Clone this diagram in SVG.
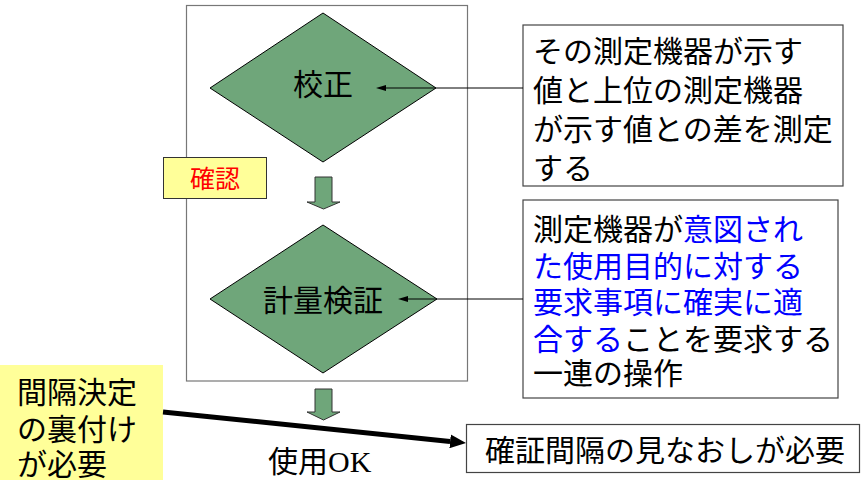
<svg xmlns="http://www.w3.org/2000/svg" width="861" height="480" viewBox="0 0 861 480">
<style>
text{font-family:"Noto Sans CJK JP","Liberation Sans",sans-serif;font-size:30px;fill:#000}
.dia{fill:#6FA67A;stroke:#000;stroke-width:1}
.blk{fill:#6FA67A;stroke:#333;stroke-width:1}
.box{fill:#fff;stroke:#444;stroke-width:1.2}
.note{fill:#FFFF99}
.blue{fill:#0000FF}
.thin{stroke:#000;stroke-width:1;fill:none}
.thick{stroke:#000;stroke-width:5;fill:none}
</style>
<defs>
<marker id="ah" markerUnits="userSpaceOnUse" markerWidth="10" markerHeight="6" refX="0" refY="3" orient="auto"><path d="M0,0 L10,3 L0,6 z" fill="#000"/></marker>
<marker id="ahb" markerUnits="userSpaceOnUse" markerWidth="16" markerHeight="14" refX="0" refY="7" orient="auto"><path d="M0,0 L16,7 L0,14 z" fill="#000"/></marker>
</defs>
<rect id="frame" x="186.5" y="5.5" width="281" height="375.5" fill="#fff" stroke="#777" stroke-width="1.2"/>
<g id="calib">
<polygon class="dia" points="323,13 436,88 323,162 210,88"/>
<text x="323" y="95" text-anchor="middle">校正</text>
</g>
<g id="confirm">
<rect x="163.5" y="157.5" width="103" height="41" fill="#FFFF99" stroke="#333" stroke-width="1"/>
<text x="215" y="188" text-anchor="middle" style="font-size:25px;fill:#FF0000">確認</text>
</g>
<g id="blockarrow1">
<polygon class="blk" points="315,177 332,177 332,202 340,202 323.5,209 307,202 315,202"/>
</g>
<g id="verify">
<polygon class="dia" points="323,225 437,299 323,373 210,299"/>
<text x="323" y="311" text-anchor="middle">計量検証</text>
</g>
<g id="blockarrow2">
<polygon class="blk" points="315,389 332,389 332,412 340,412 323.5,420 307,412 315,412"/>
</g>
<g id="desc1">
<rect class="box" x="523" y="25" width="320" height="161"/>
<text x="533" y="62">その測定機器が示す</text>
<text x="533" y="101">値と上位の測定機器</text>
<text x="533" y="140">が示す値との差を測定</text>
<text x="533" y="179">する</text>
</g>
<g id="desc2">
<rect class="box" x="523" y="200" width="315" height="198"/>
<text x="533" y="240">測定機器が<tspan class="blue">意図され</tspan></text>
<text x="533" y="277" class="blue">た使用目的に対する</text>
<text x="533" y="313" class="blue">要求事項に確実に適</text>
<text x="533" y="350"><tspan class="blue">合する</tspan>ことを要求する</text>
<text x="533" y="384">一連の操作</text>
</g>
<g id="usage">
<text x="268" y="472" style="font-family:'Liberation Serif','Noto Sans CJK JP',serif">使用OK</text>
</g>
<g id="interval">
<rect class="note" x="0" y="365" width="163" height="115"/>
<text x="17" y="403">間隔決定</text>
<text x="17" y="440">の裏付け</text>
<text x="17" y="475">が必要</text>
</g>
<g id="review">
<rect class="box" x="466.5" y="424.5" width="393" height="48"/>
<text x="485" y="461">確証間隔の見なおしが必要</text>
</g>
<g id="connectors">
<line class="thin" x1="523" y1="88" x2="386" y2="88" marker-end="url(#ah)"/>
<line class="thin" x1="523" y1="299" x2="408" y2="299" marker-end="url(#ah)"/>
<line class="thick" x1="163" y1="412" x2="450.1" y2="441.4" marker-end="url(#ahb)"/>
</g>
</svg>
